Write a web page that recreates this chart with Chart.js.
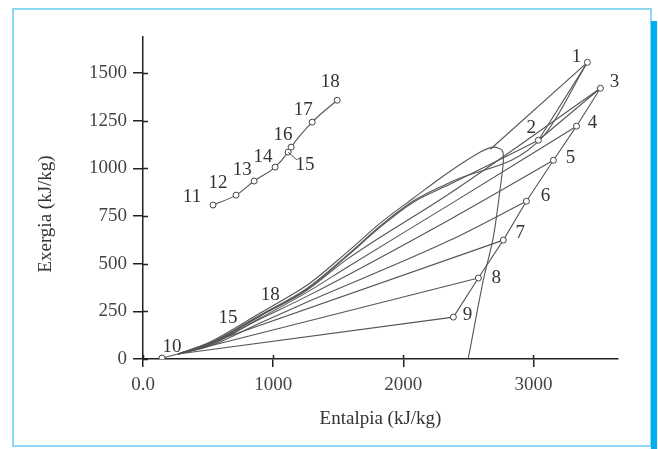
<!DOCTYPE html>
<html>
<head>
<meta charset="utf-8">
<script src="https://cdn.jsdelivr.net/npm/chart.js@4.4.1/dist/chart.umd.min.js"></script>
<style>
  html, body { margin: 0; padding: 0; background: #fff; }
  #wrap { position: relative; width: 658px; height: 449px; overflow: hidden; }
  #frame { position: absolute; left: 12px; top: 8px; width: 636px; height: 435px; border: 2px solid #8fd8f3; }
  #bar { position: absolute; left: 651px; top: 21px; width: 6px; height: 428px; background: #00aeef; }
  canvas { position: absolute; left: 0; top: 0; }
</style>
</head>
<body>
<div id="wrap">
  <div id="frame"></div>
  <div id="bar"></div>
  <canvas id="chart" width="658" height="449"></canvas>
</div>
<script>
// entalpia (kJ/kg) / exergia (kJ/kg)

// turbine expansion 1 -> 9
const turbineNames = ["1", "2", "3", "4", "5", "6", "7", "8", "9"];
const turbineH  = [3415, 3038, 3515, 3331, 3154, 2946, 2769, 2577, 2385];
const turbineEx = [1557, 1148, 1421, 1222, 1043, 828, 624, 425, 220];

// feedwater states 11 -> 18
const heaterNames = ["11", "12", "13", "14", "15", "16", "17", "18"];
const heaterH  = [538, 715, 854, 1015, 1115, 1138, 1300, 1492];
const heaterEx = [808, 860, 934, 1007, 1086, 1112, 1243, 1358];

// pump 10
const pumpH  = [146, 269];
const pumpEx = [5, 26];

// saturation curve
const domeH  = [269, 515, 900, 1262, 1569, 1823, 2077, 2338, 2592, 2692, 2760, 2769, 2746, 2692, 2615, 2500];
const domeEx = [26, 89, 241, 388, 561, 713, 844, 975, 1086, 1112, 1095, 1040, 902, 640, 414, 5];

// boiler line, top of the curve up to 1
const boilerH  = [2669, 3415];
const boilerEx = [1101, 1557];

// lines from each point back down to the liquid side
const fan1H  = [269, 515, 900, 1262, 1569, 1823, 2077, 2362, 3069, 3415];
const fan1Ex = [26, 84, 231, 372, 545, 698, 829, 928, 1164, 1557];
const fan2H  = [269, 515, 900, 1262, 1569, 1823, 2077, 2362, 3038];
const fan2Ex = [26, 79, 226, 367, 540, 692, 823, 918, 1148];
const fan3H  = [269, 515, 900, 1262, 1569, 2362, 3515];
const fan3Ex = [26, 79, 226, 362, 524, 871, 1421];
const fan4H  = [269, 515, 900, 1262, 1569, 2362, 3331];
const fan4Ex = [26, 73, 215, 351, 482, 813, 1222];
const fan5H  = [269, 515, 900, 1262, 2362, 3154];
const fan5Ex = [26, 79, 210, 330, 734, 1043];
const fan6H  = [269, 515, 900, 1262, 2362, 2946];
const fan6Ex = [26, 68, 189, 299, 624, 828];
const fan7H  = [269, 2769];
const fan7Ex = [26, 624];
const fan8H  = [269, 2577];
const fan8Ex = [26, 425];
const fan9H  = [269, 2385];
const fan9Ex = [26, 220];

// loose labels on the bundle
const bundleNames = ["15", "18"];
const bundleH  = [654, 977];
const bundleEx = [215, 336];

const xTicks = [0, 1000, 2000, 3000];
const yTicks = [0, 250, 500, 750, 1000, 1250, 1500];

// label offsets in px from the marker
const turbineOff = [[-11, -5], [-7, -12], [14, -6], [16, -3], [17, -2], [19, -5], [17, -7], [18, 0], [14, -2]];
const heaterOff = [[-21, -8], [-18, -12], [-12, -11], [-12, -10], [17, 13], [-8, -12], [-9, -12], [-7, -18]];

const SERIF = '"Liberation Serif", "DejaVu Serif", serif';
const LINE = "#555";
const INK = "#333";

function pts(h, ex) {
  return h.map((v, i) => ({ x: v, y: ex[i] }));
}

function line(h, ex, extra) {
  return Object.assign({
    data: pts(h, ex),
    showLine: true,
    borderColor: LINE,
    borderWidth: 1.1,
    pointRadius: 0,
    cubicInterpolationMode: "monotone",
    fill: false
  }, extra || {});
}

function markers(h, ex) {
  return {
    data: pts(h, ex),
    showLine: false,
    pointRadius: 3,
    pointStyle: "circle",
    pointBackgroundColor: "#fff",
    pointBorderColor: "#444",
    pointBorderWidth: 1
  };
}

const textPlugin = {
  id: "textPlugin",
  afterDraw(chart) {
    const ctx = chart.ctx;
    const sx = chart.scales.x, sy = chart.scales.y;
    ctx.save();

    // inner halves of the tick marks
    ctx.strokeStyle = "#222";
    ctx.lineWidth = 1.5;
    ctx.beginPath();
    yTicks.forEach(v => {
      const py = Math.round(sy.getPixelForValue(v)) + 0.5;
      ctx.moveTo(sx.left, py);
      ctx.lineTo(sx.left + 5, py);
    });
    xTicks.forEach(v => {
      const px = Math.round(sx.getPixelForValue(v)) + 0.5;
      ctx.moveTo(px, sy.bottom);
      ctx.lineTo(px, sy.bottom - 4);
    });
    ctx.stroke();

    // leader from 15 to its label
    ctx.strokeStyle = LINE;
    ctx.lineWidth = 1;
    ctx.beginPath();
    const p15x = sx.getPixelForValue(heaterH[4]), p15y = sy.getPixelForValue(heaterEx[4]);
    ctx.moveTo(p15x, p15y);
    ctx.lineTo(p15x + 9, p15y + 8);
    ctx.stroke();

    ctx.fillStyle = INK;
    ctx.font = "19px " + SERIF;
    ctx.textAlign = "center";
    ctx.textBaseline = "middle";

    turbineNames.forEach((t, i) => {
      ctx.fillText(t, sx.getPixelForValue(turbineH[i]) + turbineOff[i][0], sy.getPixelForValue(turbineEx[i]) + turbineOff[i][1]);
    });
    heaterNames.forEach((t, i) => {
      ctx.fillText(t, sx.getPixelForValue(heaterH[i]) + heaterOff[i][0], sy.getPixelForValue(heaterEx[i]) + heaterOff[i][1]);
    });
    ctx.fillText("10", sx.getPixelForValue(pumpH[0]) + 10, sy.getPixelForValue(pumpEx[0]) - 11);
    bundleNames.forEach((t, i) => {
      ctx.fillText(t, sx.getPixelForValue(bundleH[i]), sy.getPixelForValue(bundleEx[i]));
    });

    // y axis title
    ctx.translate(46, 214);
    ctx.rotate(-Math.PI / 2);
    ctx.fillText("Exergia (kJ/kg)", 0, 0);
    ctx.restore();
  }
};

new Chart(document.getElementById("chart"), {
  type: "scatter",
  data: {
    datasets: [
      markers(turbineH, turbineEx),
      markers(heaterH, heaterEx),
      markers([pumpH[0]], [pumpEx[0]]),
      line(turbineH, turbineEx, { cubicInterpolationMode: "default", tension: 0 }),
      line(heaterH, heaterEx),
      line(pumpH, pumpEx),
      line(domeH, domeEx, { cubicInterpolationMode: "default", tension: 0.3 }),
      line(boilerH, boilerEx),
      line(fan1H, fan1Ex),
      line(fan2H, fan2Ex),
      line(fan3H, fan3Ex),
      line(fan4H, fan4Ex),
      line(fan5H, fan5Ex),
      line(fan6H, fan6Ex),
      line(fan7H, fan7Ex),
      line(fan8H, fan8Ex),
      line(fan9H, fan9Ex)
    ]
  },
  options: {
    responsive: false,
    animation: false,
    devicePixelRatio: 1,
    layout: { padding: { left: 0, top: 37, right: 40, bottom: 0 } },
    plugins: {
      legend: { display: false },
      tooltip: { enabled: false }
    },
    scales: {
      x: {
        type: "linear",
        min: 0,
        max: 3650,
        afterFit(s) { s.height = 90; },
        afterBuildTicks(s) { s.ticks = xTicks.map(v => ({ value: v })); },
        ticks: {
          includeBounds: false,
          padding: 7,
          color: "#444",
          font: { family: SERIF, size: 19 },
          callback: v => v === 0 ? "0.0" : String(v)
        },
        grid: { drawOnChartArea: false, drawTicks: true, tickLength: 8, color: "#222", lineWidth: 1.5 },
        border: { color: "#222", width: 1.5 },
        title: {
          display: true,
          text: "Entalpia (kJ/kg)",
          color: INK,
          font: { family: SERIF, size: 19 },
          padding: { top: 0, bottom: 19 }
        }
      },
      y: {
        type: "linear",
        min: 0,
        max: 1690,
        afterFit(s) { s.width = 143; },
        afterBuildTicks(s) { s.ticks = yTicks.map(v => ({ value: v })); },
        ticks: {
          includeBounds: false,
          padding: 6,
          color: "#444",
          font: { family: SERIF, size: 19 },
          callback: v => String(v)
        },
        grid: { drawOnChartArea: false, drawTicks: true, tickLength: 10, color: "#222", lineWidth: 1.5 },
        border: { color: "#222", width: 1.5 }
      }
    }
  },
  plugins: [textPlugin]
});
</script>
</body>
</html>
